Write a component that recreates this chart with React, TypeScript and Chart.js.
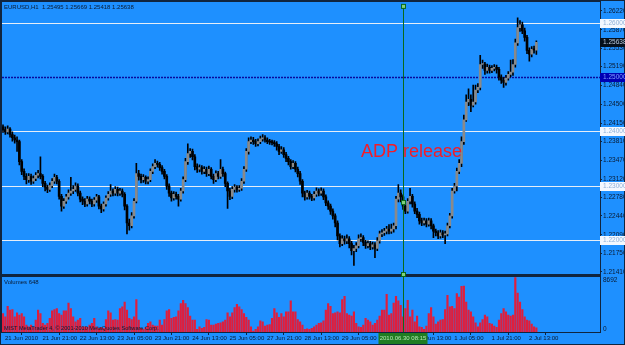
import React, { useEffect, useRef } from 'react';
import { Chart, registerables } from 'chart.js';

Chart.register(...registerables);

const FONT = "'Liberation Sans', Arial, sans-serif";
const BG = '#1e90ff';
const TXT = '#0a1a30';
const FRAME = '#10253f';
const BULL = '#8a8a8a';
const BEAR = '#000000';
const VOL = '#e01e3c';

const symbolTitle = 'EURUSD,H1';

const opens = [
  1.2408, 1.2403, 1.2399, 1.2404, 1.2394, 1.2388, 1.2384, 1.2381, 1.2344, 1.2326,
  1.2317, 1.2311, 1.2317, 1.2308, 1.2313, 1.2319, 1.2322, 1.2317, 1.2304, 1.2297,
  1.2293, 1.2300, 1.2308, 1.2315, 1.2308, 1.2280, 1.2262, 1.2271, 1.2279, 1.2286,
  1.2290, 1.2293, 1.2299, 1.2286, 1.2275, 1.2271, 1.2266, 1.2275, 1.2271, 1.2266,
  1.2273, 1.2279, 1.2262, 1.2257, 1.2266, 1.2277, 1.2284, 1.2290, 1.2286, 1.2293,
  1.2286, 1.2290, 1.2284, 1.2262, 1.2231, 1.2226, 1.2244, 1.2271, 1.2322, 1.2317,
  1.2311, 1.2315, 1.2308, 1.2311, 1.2326, 1.2335, 1.2341, 1.2339, 1.2333, 1.2326,
  1.2317, 1.2299, 1.2286, 1.2277, 1.2284, 1.2280, 1.2275, 1.2290, 1.2311, 1.2344,
  1.2359, 1.2363, 1.2353, 1.2335, 1.2330, 1.2333, 1.2326, 1.2330, 1.2322, 1.2330,
  1.2317, 1.2311, 1.2322, 1.2317, 1.2330, 1.2322, 1.2304, 1.2290, 1.2280, 1.2293,
  1.2297, 1.2293, 1.2295, 1.2308, 1.2330, 1.2363, 1.2381, 1.2384, 1.2381, 1.2377,
  1.2381, 1.2386, 1.2388, 1.2384, 1.2381, 1.2380, 1.2379, 1.2377, 1.2372, 1.2363,
  1.2366, 1.2357, 1.2350, 1.2344, 1.2335, 1.2341, 1.2330, 1.2322, 1.2308, 1.2286,
  1.2279, 1.2286, 1.2280, 1.2277, 1.2284, 1.2290, 1.2286, 1.2290, 1.2279, 1.2268,
  1.2262, 1.2253, 1.2244, 1.2231, 1.2207, 1.2193, 1.2202, 1.2198, 1.2202, 1.2193,
  1.2180, 1.2184, 1.2189, 1.2202, 1.2204, 1.2195, 1.2189, 1.2193, 1.2187, 1.2191,
  1.2184, 1.2198, 1.2211, 1.2213, 1.2216, 1.2220, 1.2216, 1.2220, 1.2226, 1.2275,
  1.2286, 1.2279, 1.2262, 1.2253, 1.2271, 1.2280, 1.2266, 1.2253, 1.2247, 1.2235,
  1.2231, 1.2235, 1.2229, 1.2235, 1.2226, 1.2216, 1.2213, 1.2207, 1.2213, 1.2209,
  1.2211, 1.2226, 1.2244, 1.2290, 1.2299, 1.2326, 1.2341, 1.2381, 1.2421, 1.2454,
  1.2459, 1.2448, 1.2454, 1.2476, 1.2481, 1.2523, 1.2524, 1.2512, 1.2518, 1.2512,
  1.2516, 1.2518, 1.2514, 1.2500, 1.2494, 1.2490, 1.2498, 1.2505, 1.2509, 1.2523,
  1.2563, 1.2591, 1.2596, 1.2585, 1.2573, 1.2549, 1.2542, 1.2551, 1.25495,
];

const highs = [
  1.2412, 1.2408, 1.2410, 1.2407, 1.2399, 1.2393, 1.2390, 1.2384, 1.2348, 1.2331,
  1.2322, 1.2322, 1.2321, 1.2318, 1.2324, 1.2328, 1.2353, 1.2320, 1.2308, 1.2301,
  1.2305, 1.2313, 1.2321, 1.2319, 1.2311, 1.2284, 1.2276, 1.2284, 1.2292, 1.2315,
  1.2300, 1.2305, 1.2303, 1.2290, 1.2279, 1.2276, 1.2280, 1.2279, 1.2275, 1.2278,
  1.2284, 1.2282, 1.2266, 1.2270, 1.2281, 1.2289, 1.2302, 1.2294, 1.2298, 1.2297,
  1.2295, 1.2294, 1.2287, 1.2265, 1.2238, 1.2250, 1.2276, 1.2341, 1.2328, 1.2321,
  1.2320, 1.2318, 1.2316, 1.2331, 1.2340, 1.2348, 1.2345, 1.2343, 1.2337, 1.2330,
  1.2320, 1.2303, 1.2290, 1.2289, 1.2288, 1.2284, 1.2295, 1.2316, 1.2350, 1.2377,
  1.2368, 1.2367, 1.2357, 1.2340, 1.2338, 1.2337, 1.2335, 1.2334, 1.2336, 1.2333,
  1.2321, 1.2327, 1.2326, 1.2348, 1.2334, 1.2325, 1.2307, 1.2295, 1.2298, 1.2302,
  1.2300, 1.2300, 1.2313, 1.2335, 1.2368, 1.2388, 1.2390, 1.2389, 1.2385, 1.2386,
  1.2391, 1.2394, 1.2392, 1.2388, 1.2385, 1.2384, 1.2383, 1.2381, 1.2376, 1.2372,
  1.2370, 1.2361, 1.2354, 1.2348, 1.2346, 1.2344, 1.2334, 1.2326, 1.2311, 1.2290,
  1.2291, 1.2290, 1.2284, 1.2289, 1.2296, 1.2294, 1.2296, 1.2294, 1.2283, 1.2272,
  1.2266, 1.2257, 1.2248, 1.2235, 1.2211, 1.2208, 1.2207, 1.2209, 1.2206, 1.2197,
  1.2190, 1.2195, 1.2209, 1.2211, 1.2208, 1.2199, 1.2198, 1.2197, 1.2196, 1.2195,
  1.2204, 1.2216, 1.2219, 1.2221, 1.2225, 1.2228, 1.2229, 1.2231, 1.2280, 1.2302,
  1.2292, 1.2283, 1.2267, 1.2276, 1.2295, 1.2284, 1.2270, 1.2258, 1.2251, 1.2240,
  1.2240, 1.2239, 1.2240, 1.2239, 1.2229, 1.2220, 1.2217, 1.2218, 1.2217, 1.2216,
  1.2231, 1.2249, 1.2295, 1.2304, 1.2332, 1.2348, 1.2390, 1.2430, 1.2467, 1.2478,
  1.2467, 1.2485, 1.2485, 1.2488, 1.2540, 1.2531, 1.2527, 1.2524, 1.2522, 1.2521,
  1.2523, 1.2522, 1.2518, 1.2504, 1.2499, 1.2503, 1.2510, 1.2531, 1.2532, 1.2570,
  1.2609, 1.2604, 1.2601, 1.2590, 1.2577, 1.2554, 1.2556, 1.2557, 1.25669,
];

const lows = [
  1.2398, 1.2394, 1.2395, 1.2389, 1.2382, 1.2378, 1.2363, 1.2338, 1.2320, 1.2311,
  1.2303, 1.2306, 1.2302, 1.2304, 1.2309, 1.2314, 1.2312, 1.2298, 1.2290, 1.2287,
  1.2289, 1.2296, 1.2304, 1.2303, 1.2275, 1.2253, 1.2258, 1.2267, 1.2275, 1.2282,
  1.2285, 1.2289, 1.2281, 1.2270, 1.2265, 1.2261, 1.2262, 1.2266, 1.2261, 1.2262,
  1.2269, 1.2257, 1.2250, 1.2253, 1.2262, 1.2273, 1.2280, 1.2281, 1.2282, 1.2281,
  1.2282, 1.2279, 1.2255, 1.2211, 1.2218, 1.2222, 1.2240, 1.2268, 1.2310, 1.2305,
  1.2306, 1.2303, 1.2303, 1.2307, 1.2322, 1.2331, 1.2334, 1.2328, 1.2321, 1.2312,
  1.2293, 1.2280, 1.2271, 1.2273, 1.2275, 1.2262, 1.2271, 1.2286, 1.2307, 1.2339,
  1.2352, 1.2347, 1.2329, 1.2324, 1.2325, 1.2321, 1.2322, 1.2317, 1.2318, 1.2312,
  1.2304, 1.2307, 1.2312, 1.2313, 1.2317, 1.2298, 1.2258, 1.2274, 1.2276, 1.2288,
  1.2288, 1.2289, 1.2291, 1.2304, 1.2326, 1.2358, 1.2377, 1.2376, 1.2372, 1.2373,
  1.2377, 1.2382, 1.2380, 1.2377, 1.2376, 1.2375, 1.2372, 1.2365, 1.2357, 1.2359,
  1.2352, 1.2344, 1.2338, 1.2330, 1.2331, 1.2325, 1.2316, 1.2302, 1.2279, 1.2273,
  1.2275, 1.2275, 1.2272, 1.2273, 1.2280, 1.2281, 1.2282, 1.2274, 1.2263, 1.2256,
  1.2247, 1.2238, 1.2224, 1.2200, 1.2187, 1.2189, 1.2192, 1.2193, 1.2185, 1.2172,
  1.2153, 1.2178, 1.2185, 1.2197, 1.2189, 1.2184, 1.2185, 1.2182, 1.2183, 1.2167,
  1.2180, 1.2194, 1.2206, 1.2208, 1.2211, 1.2211, 1.2212, 1.2214, 1.2220, 1.2270,
  1.2270, 1.2256, 1.2248, 1.2249, 1.2266, 1.2260, 1.2248, 1.2241, 1.2229, 1.2226,
  1.2227, 1.2224, 1.2225, 1.2220, 1.2204, 1.2207, 1.2202, 1.2203, 1.2204, 1.2193,
  1.2207, 1.2222, 1.2240, 1.2286, 1.2290, 1.2322, 1.2335, 1.2376, 1.2418, 1.2447,
  1.2436, 1.2445, 1.2450, 1.2471, 1.2476, 1.2516, 1.2505, 1.2507, 1.2507, 1.2508,
  1.2511, 1.2507, 1.2494, 1.2488, 1.2481, 1.2485, 1.2494, 1.2500, 1.2503, 1.2518,
  1.2558, 1.2584, 1.2580, 1.2566, 1.2543, 1.2529, 1.2537, 1.2544, 1.25418,
];

const closes = [
  1.2403, 1.2399, 1.2404, 1.2394, 1.2388, 1.2384, 1.2381, 1.2344, 1.2326, 1.2317,
  1.2311, 1.2317, 1.2308, 1.2313, 1.2319, 1.2322, 1.2317, 1.2304, 1.2297, 1.2293,
  1.2300, 1.2308, 1.2315, 1.2308, 1.2280, 1.2262, 1.2271, 1.2279, 1.2286, 1.2290,
  1.2293, 1.2299, 1.2286, 1.2275, 1.2271, 1.2266, 1.2275, 1.2271, 1.2266, 1.2273,
  1.2279, 1.2262, 1.2257, 1.2266, 1.2277, 1.2284, 1.2290, 1.2286, 1.2293, 1.2286,
  1.2290, 1.2284, 1.2262, 1.2231, 1.2226, 1.2244, 1.2271, 1.2322, 1.2317, 1.2311,
  1.2315, 1.2308, 1.2311, 1.2326, 1.2335, 1.2341, 1.2339, 1.2333, 1.2326, 1.2317,
  1.2299, 1.2286, 1.2277, 1.2284, 1.2280, 1.2275, 1.2290, 1.2311, 1.2344, 1.2359,
  1.2363, 1.2353, 1.2335, 1.2330, 1.2333, 1.2326, 1.2330, 1.2322, 1.2330, 1.2317,
  1.2311, 1.2322, 1.2317, 1.2330, 1.2322, 1.2304, 1.2290, 1.2280, 1.2293, 1.2297,
  1.2293, 1.2295, 1.2308, 1.2330, 1.2363, 1.2381, 1.2384, 1.2381, 1.2377, 1.2381,
  1.2386, 1.2388, 1.2384, 1.2381, 1.2380, 1.2379, 1.2377, 1.2372, 1.2363, 1.2366,
  1.2357, 1.2350, 1.2344, 1.2335, 1.2341, 1.2330, 1.2322, 1.2308, 1.2286, 1.2279,
  1.2286, 1.2280, 1.2277, 1.2284, 1.2290, 1.2286, 1.2290, 1.2279, 1.2268, 1.2262,
  1.2253, 1.2244, 1.2231, 1.2207, 1.2193, 1.2202, 1.2198, 1.2202, 1.2193, 1.2180,
  1.2184, 1.2189, 1.2202, 1.2204, 1.2195, 1.2189, 1.2193, 1.2187, 1.2191, 1.2184,
  1.2198, 1.2211, 1.2213, 1.2216, 1.2220, 1.2216, 1.2220, 1.2226, 1.2275, 1.2286,
  1.2279, 1.2262, 1.2253, 1.2271, 1.2280, 1.2266, 1.2253, 1.2247, 1.2235, 1.2231,
  1.2235, 1.2229, 1.2235, 1.2226, 1.2216, 1.2213, 1.2207, 1.2213, 1.2209, 1.2211,
  1.2226, 1.2244, 1.2290, 1.2299, 1.2326, 1.2341, 1.2381, 1.2421, 1.2454, 1.2459,
  1.2448, 1.2454, 1.2476, 1.2481, 1.2523, 1.2524, 1.2512, 1.2518, 1.2512, 1.2516,
  1.2518, 1.2514, 1.2500, 1.2494, 1.2490, 1.2498, 1.2505, 1.2509, 1.2523, 1.2563,
  1.2591, 1.2596, 1.2585, 1.2573, 1.2549, 1.2542, 1.2551, 1.2550, 1.25638,
];

const volumes = [
  2950, 2420, 4110, 3480, 3580, 2420, 3050, 2690, 2950, 2420,
  1110, 840, 1110, 740, 1900, 3480, 2950, 1370, 1110, 1370,
  2160, 3370, 3580, 3740, 2950, 2690, 3370, 3370, 4630, 3740,
  2420, 1630, 1900, 2160, 840, 840, 740, 1110, 1370, 2160,
  840, 580, 740, 580, 2000, 3370, 3050, 1900, 2000, 1900,
  3740, 4000, 4790, 3480, 2160, 2000, 2420, 5160, 1900, 580,
  420, 740, 1370, 1630, 1110, 950, 950, 1900, 1110, 2000,
  3370, 3580, 2160, 2320, 2420, 3370, 4530, 5060, 4530, 3900,
  2530, 1900, 1900, 420, 840, 580, 740, 2000, 1900, 1110,
  1110, 1260, 1370, 1470, 1630, 1900, 3050, 2420, 3050, 3900,
  4420, 4000, 3580, 2950, 2320, 1900, 840, 160, 420, 840,
  1790, 1630, 950, 1110, 1200, 2160, 3740, 3050, 2320, 2950,
  2420, 3210, 3210, 4950, 3210, 3210, 2000, 1630, 1110, 420,
  520, 420, 580, 840, 1110, 1370, 1470, 1790, 3480, 4530,
  4110, 2950, 3050, 3210, 3050, 5160, 5690, 2950, 2690, 2530,
  3210, 1370, 840, 740, 1110, 2160, 1900, 1630, 1110, 1370,
  1900, 2530, 3480, 3480, 6000, 2690, 2950, 4630, 5690, 4950,
  4270, 2420, 3740, 5060, 2420, 3480, 1630, 2530, 840, 740,
  420, 950, 2950, 3900, 2420, 1260, 1630, 1900, 2000, 3580,
  5850, 4000, 4110, 3740, 6110, 5580, 7270, 7320, 4790, 3480,
  3210, 2420, 1470, 840, 1470, 2000, 2690, 2420, 1370, 1260,
  950, 740, 1900, 2950, 3740, 3210, 2690, 2530, 2690, 8692,
  6210, 4790, 3580, 2420, 1900, 1790, 1260, 840, 648,
];

const timeTickBars = [0, 16, 32, 48, 64, 80, 96, 112, 128, 144, 160, 176, 192, 208, 224];
const timeLabels = [
  '21 Jun 2010', '21 Jun 21:00', '22 Jun 13:00', '23 Jun 05:00', '23 Jun 21:00',
  '24 Jun 13:00', '25 Jun 05:00', '27 Jun 21:00', '28 Jun 13:00', '29 Jun 05:00',
  '29 Jun 21:00', '30 Jun 13:00', '1 Jul 05:00', '1 Jul 21:00', '2 Jul 13:00',
];

const priceTicks = [
  1.2622, 1.2587, 1.2553, 1.2519, 1.2484, 1.245, 1.2415, 1.2381,
  1.2347, 1.2312, 1.2278, 1.2244, 1.2209, 1.2175, 1.2141,
];

const whiteLevels = [1.26, 1.24, 1.23, 1.22];
const blueLevel = 1.25;
const volumeMax = 8692;
const markerBar = 171;
const markerPrice = 1.227;
const markerTime = '2010.06.30 08:15';
const noteText = 'ADP release';
const copyright = 'MIST MetaTrader 4, \u00A9 2001-2010 MetaQuotes Software Corp.';

const PRICE_MIN = 1.213608;
const PRICE_MAX = 1.263288;
const X_MIN = -0.43;
const X_MAX = 255.2;

function tag(ctx: CanvasRenderingContext2D, x: number, y: number, text: string, bg: string, fg: string) {
  const yy = Math.round(y);
  ctx.fillStyle = bg;
  ctx.fillRect(x, yy - 4, 625 - x, 9);
  ctx.fillStyle = fg;
  ctx.font = `6.5px ${FONT}`;
  ctx.textAlign = 'left';
  ctx.textBaseline = 'middle';
  ctx.fillText(text, x + 3, yy + 0.5);
}

const decor = {
  id: 'decor',
  beforeDraw(chart: any) {
    const c = chart.ctx;
    c.save();
    c.fillStyle = BG;
    c.fillRect(0, 0, chart.width, chart.height);
    c.restore();
  },
  beforeDatasetsDraw(chart: any) {
    const { ctx, chartArea, scales } = chart;
    const ys = scales.y;
    ctx.save();
    ctx.lineWidth = 1;
    ctx.strokeStyle = '#e6eef8';
    whiteLevels.forEach((v) => {
      const py = Math.round(ys.getPixelForValue(v)) + 0.5;
      ctx.beginPath();
      ctx.moveTo(chartArea.left, py);
      ctx.lineTo(chartArea.right, py);
      ctx.stroke();
    });
    const by = Math.round(ys.getPixelForValue(blueLevel)) + 0.5;
    ctx.strokeStyle = '#0a0a9c';
    ctx.lineWidth = 1.5;
    ctx.setLineDash([2, 1]);
    ctx.beginPath();
    ctx.moveTo(chartArea.left, by);
    ctx.lineTo(chartArea.right, by);
    ctx.stroke();
    ctx.restore();
  },
  afterDatasetsDraw(chart: any) {
    const { ctx, chartArea, scales } = chart;
    const ys = scales.y;
    const yv = scales.yv;
    const xs = scales.x;
    const n = closes.length - 1;
    ctx.save();

    // frames
    ctx.strokeStyle = FRAME;
    ctx.lineWidth = 1;
    const sepTop = Math.round(ys.bottom);
    ctx.strokeRect(1.5, 1.5, chartArea.right - 1, sepTop - 2);
    ctx.fillStyle = FRAME;
    ctx.fillRect(1, sepTop - 1, chartArea.right, 2);
    ctx.strokeRect(1.5, sepTop + 1.5, chartArea.right - 1, Math.round(yv.bottom) - sepTop - 1);
    ctx.strokeRect(0.5, 0.5, 624, 344);

    // green crosshair line
    const gx = Math.round(xs.getPixelForValue(markerBar)) + 0.5;
    ctx.strokeStyle = '#0b6a1c';
    ctx.beginPath();
    ctx.moveTo(gx, chartArea.top);
    ctx.lineTo(gx, chartArea.bottom);
    ctx.stroke();
    const mark = (y: number) => {
      ctx.fillStyle = '#0b6a1c';
      ctx.fillRect(gx - 2.5, y - 2, 5, 5);
      ctx.fillStyle = '#7fd07f';
      ctx.fillRect(gx - 1.5, y - 1, 3, 3);
    };
    mark(chartArea.top + 1);
    mark(Math.round(ys.getPixelForValue(markerPrice)));
    mark(sepTop - 1);

    // price tags
    const tx = chartArea.right;
    whiteLevels.forEach((v) => tag(ctx, tx, ys.getPixelForValue(v), v.toFixed(5), '#f4f8ff', '#8fb0d8'));
    tag(ctx, tx, ys.getPixelForValue(blueLevel), blueLevel.toFixed(5), '#0000b4', '#7f9cff');
    tag(ctx, tx, ys.getPixelForValue(closes[n]), closes[n].toFixed(5), '#06101c', '#b8c8dc');

    // volume scale labels
    ctx.fillStyle = TXT;
    ctx.font = `6.5px ${FONT}`;
    ctx.textAlign = 'left';
    ctx.textBaseline = 'middle';
    ctx.fillText(String(volumeMax), tx + 3, Math.round(yv.top) + 5);
    ctx.fillText('0', tx + 3, Math.round(yv.bottom) - 3);

    // header and captions
    ctx.font = `6px ${FONT}`;
    ctx.fillText(
      `${symbolTitle}  ${opens[n].toFixed(5)} ${highs[n].toFixed(5)} ${lows[n].toFixed(5)} ${closes[n].toFixed(5)}`,
      4, 7
    );
    ctx.fillText(`Volumes ${volumes[n]}`, 4, Math.round(yv.top) + 7);
    ctx.font = `5.6px ${FONT}`;
    ctx.fillText(copyright, 4, Math.round(yv.bottom) - 4);

    // note
    ctx.fillStyle = '#f41c28';
    ctx.font = `18px ${FONT}`;
    ctx.textBaseline = 'alphabetic';
    ctx.fillText(noteText, 361, 157);

    // green time box
    const bx = gx - 25;
    ctx.fillStyle = '#1f7d22';
    ctx.fillRect(bx, chartArea.bottom + 1, 49, 11);
    ctx.fillStyle = '#b4e6b4';
    ctx.font = `6px ${FONT}`;
    ctx.textAlign = 'center';
    ctx.textBaseline = 'middle';
    ctx.fillText(markerTime, bx + 24.5, chartArea.bottom + 6.5);
    ctx.restore();
  },
};

export default function App() {
  const ref = useRef<HTMLCanvasElement>(null);
  useEffect(() => {
    const canvas = ref.current;
    if (!canvas) return;
    const bodyData = opens.map((o, i) => ({ x: i, y: [Math.min(o, closes[i]), Math.max(o, closes[i])] }));
    const bodyColors = opens.map((o, i) => (closes[i] >= o ? BULL : BEAR));
    const wickData = highs.map((h, i) => ({ x: i, y: [lows[i], h] }));
    const volData = volumes.map((v, i) => ({ x: i, y: v }));

    const chart = new Chart(canvas, {
      type: 'bar',
      data: {
        datasets: [
          { data: bodyData as any, backgroundColor: bodyColors, barThickness: 2, minBarLength: 1, yAxisID: 'y', order: 1, grouped: false } as any,
          { data: wickData as any, backgroundColor: '#000000', barThickness: 1, yAxisID: 'y', order: 2, grouped: false } as any,
          { data: volData as any, backgroundColor: VOL, barThickness: 1.5, yAxisID: 'yv', order: 3, grouped: false } as any,
        ],
      },
      options: {
        responsive: false,
        animation: false,
        devicePixelRatio: 1,
        events: [],
        layout: { padding: { left: 2, top: 2, right: 0, bottom: 0 } },
        plugins: { legend: { display: false }, tooltip: { enabled: false }, title: { display: false } },
        scales: {
          x: {
            type: 'linear',
            position: 'bottom',
            min: X_MIN,
            max: X_MAX,
            offset: false,
            afterBuildTicks: (s: any) => { s.ticks = timeTickBars.map((v) => ({ value: v })); },
            afterFit: (s: any) => { s.height = 13; },
            ticks: {
              autoSkip: false,
              maxRotation: 0,
              minRotation: 0,
              align: 'start',
              labelOffset: 2,
              padding: 0,
              color: TXT,
              font: { family: FONT, size: 6 },
              callback: (_v: any, idx: number) => timeLabels[idx],
            },
            grid: { display: true, drawOnChartArea: false, drawTicks: true, tickLength: 3, color: FRAME },
            border: { display: false },
          },
          y: {
            type: 'linear',
            position: 'right',
            stack: 'panes',
            stackWeight: 272,
            weight: 0,
            min: PRICE_MIN,
            max: PRICE_MAX,
            afterBuildTicks: (s: any) => { s.ticks = priceTicks.map((v) => ({ value: v })); },
            afterFit: (s: any) => { s.width = 25; },
            ticks: {
              autoSkip: false,
              padding: 1,
              color: TXT,
              font: { family: FONT, size: 6.5 },
              callback: (v: any) => Number(v).toFixed(5),
            },
            grid: { display: true, drawOnChartArea: false, drawTicks: true, tickLength: 2, color: FRAME },
            border: { display: false },
          },
          yv: {
            type: 'linear',
            position: 'right',
            stack: 'panes',
            stackWeight: 58,
            weight: 1,
            min: 0,
            max: 9166,
            afterBuildTicks: (s: any) => { s.ticks = [{ value: 0 }, { value: volumeMax }]; },
            afterFit: (s: any) => { s.width = 25; },
            ticks: { display: false },
            grid: { display: false },
            border: { display: false },
          },
        } as any,
      },
      plugins: [decor],
    } as any);
    return () => chart.destroy();
  }, []);

  return (
    <canvas
      ref={ref}
      width={625}
      height={345}
      style={{ position: 'absolute', left: 0, top: 0, width: 625, height: 345, display: 'block' }}
    />
  );
}
